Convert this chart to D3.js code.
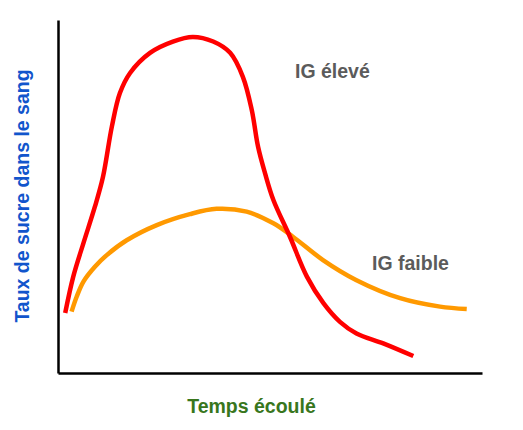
<!DOCTYPE html>
<html>
<head>
<meta charset="utf-8">
<script src="https://cdn.jsdelivr.net/npm/d3@7"></script>
<style>
  html, body { margin: 0; padding: 0; background: #fff; }
  svg { display: block; }
  text { font-family: "Liberation Sans", Arial, sans-serif; font-weight: bold; }
</style>
</head>
<body>
<svg id="chart" width="523" height="430"></svg>
<script>
// Blood sugar over time after a meal, high vs low glycemic index (arbitrary units)
const highGiTime  = [1.7, 3.6, 6.0, 8.7, 10.6, 12.7, 14.6, 17.0, 21.7, 27.1, 31.8, 36.6, 40.6, 43.6, 45.7, 47.2, 48.8, 50.8, 54.7, 58.7, 62.6, 66.5, 70.4, 76.7, 83.8];
const highGiSugar = [17.0, 27.3, 36.8, 47.1, 55.5, 69.8, 79.3, 85.0, 90.7, 93.9, 95.2, 93.9, 90.7, 83.9, 74.5, 64.0, 56.7, 49.0, 38.6, 27.3, 19.8, 14.5, 11.2, 8.4, 4.8];

const lowGiTime  = [3.2, 4.4, 6.0, 8.7, 11.5, 16.2, 23.3, 31.1, 37.4, 44.5, 50.8, 55.4, 62.5, 70.4, 80.7, 90.1, 96.4];
const lowGiSugar = [17.4, 21.6, 25.9, 30.1, 33.4, 37.6, 41.9, 45.0, 46.5, 45.7, 42.4, 38.6, 32.0, 26.3, 21.2, 18.8, 18.1];

const seriesLabels = ["IG élevé", "IG faible"];
const xTitle = "Temps écoulé";
const yTitle = "Taux de sucre dans le sang";

const svg = d3.select("#chart");
const margin = { left: 58, right: 41, top: 20, bottom: 57 };
const W = 523, H = 430;

const x = d3.scaleLinear().domain([0, 100]).range([margin.left, W - margin.right]);
const y = d3.scaleLinear().domain([0, 100]).range([H - margin.bottom, margin.top]);

// Axes: bare lines, no ticks
const xAxis = d3.axisBottom(x).ticks(0).tickSize(0).tickFormat("");
const yAxis = d3.axisLeft(y).ticks(0).tickSize(0).tickFormat("");

svg.append("g")
  .attr("transform", `translate(0,${y(0)})`)
  .call(xAxis)
  .call(g => g.select(".domain").attr("stroke", "#000").attr("stroke-width", 2.5));

svg.append("g")
  .attr("transform", `translate(${x(0)},0)`)
  .call(yAxis)
  .call(g => g.select(".domain").attr("stroke", "#000").attr("stroke-width", 2.5));

const line = d3.line()
  .x(d => x(d[0]))
  .y(d => y(d[1]))
  .curve(d3.curveCatmullRom.alpha(0.5));

const lowData = d3.zip(lowGiTime, lowGiSugar);
const highData = d3.zip(highGiTime, highGiSugar);

svg.append("path")
  .datum(lowData)
  .attr("d", line)
  .attr("fill", "none")
  .attr("stroke", "#ff9900")
  .attr("stroke-width", 4.5);

svg.append("path")
  .datum(highData)
  .attr("d", line)
  .attr("fill", "none")
  .attr("stroke", "#ff0000")
  .attr("stroke-width", 4.5);

// Series labels
svg.append("text")
  .attr("x", 295).attr("y", 78)
  .attr("font-size", 19.5)
  .attr("fill", "#5b5b5b")
  .text(seriesLabels[0]);

svg.append("text")
  .attr("x", 372).attr("y", 270)
  .attr("font-size", 19.5)
  .attr("fill", "#5b5b5b")
  .text(seriesLabels[1]);

// Axis titles
svg.append("text")
  .attr("x", 251.5).attr("y", 413)
  .attr("text-anchor", "middle")
  .attr("font-size", 19.5)
  .attr("fill", "#38761d")
  .text(xTitle);

svg.append("text")
  .attr("transform", "translate(28.5,196) rotate(-90)")
  .attr("text-anchor", "middle")
  .attr("font-size", 19.5)
  .attr("fill", "#1155cc")
  .text(yTitle);
</script>
</body>
</html>
